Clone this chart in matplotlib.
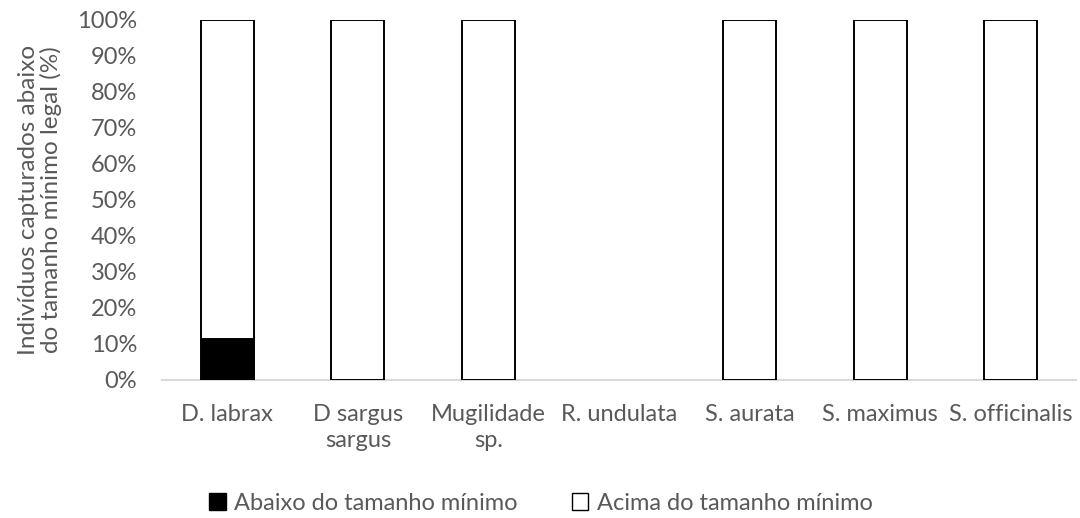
import matplotlib
matplotlib.use("Agg")
import matplotlib.pyplot as plt
from matplotlib.patches import Patch
from matplotlib.ticker import FuncFormatter

categories = ["D. labrax", "D sargus\nsargus", "Mugilidade\nsp.", "R. undulata",
              "S. aurata", "S. maximus", "S. officinalis"]
abaixo = [11.5, 0, 0, 0, 0, 0, 0]
acima = [88.5, 100, 100, 0, 100, 100, 100]
ytick_vals = list(range(0, 101, 10))

plt.rcParams['font.family'] = ['Lato', 'DejaVu Sans']
gray = '#595959'
fs = 17

fig = plt.figure(figsize=(10.8, 5.18), dpi=100)
ax = fig.add_axes([162/1080, 1-380/518, (1076-162)/1080, 360/518])

x = list(range(len(categories)))
w = 0.405
lw_ab = [1.4 if v > 0 else 0 for v in abaixo]
lw_ac = [1.4 if v > 0 else 0 for v in acima]
ax.bar(x, abaixo, width=w, color='black', edgecolor='black', linewidth=lw_ab)
ax.bar(x, acima, width=w, bottom=abaixo, color='white', edgecolor='black',
       linewidth=lw_ac)

ax.set_xlim(-0.5, len(categories) - 0.5)
ax.set_ylim(0, 100)
ax.set_yticks(ytick_vals)
ax.yaxis.set_major_formatter(FuncFormatter(lambda v, p: f"{int(v)}%"))
ax.set_xticks(x)
ax.set_xticklabels(categories, linespacing=1.3)
ax.tick_params(axis='both', length=0, colors=gray, labelsize=fs)
ax.tick_params(axis='x', pad=17)
ax.tick_params(axis='y', pad=18)
for s in ['top', 'right', 'left']:
    ax.spines[s].set_visible(False)
ax.spines['bottom'].set_color('#d9d9d9')
ax.spines['bottom'].set_linewidth(1.5)
ax.spines['bottom'].set_zorder(0)

fig.text(40/1080, 1-200/518, "Indivíduos capturados abaixo\ndo tamanho mínimo legal (%)",
         rotation=90, ha='center', va='center', multialignment='center',
         color=gray, fontsize=17.5, linespacing=1.05)

handles = [Patch(facecolor='black', edgecolor='black', label='Abaixo do tamanho mínimo'),
           Patch(facecolor='white', edgecolor='black', label='Acima do tamanho mínimo')]
fig.legend(handles=handles, loc='center', bbox_to_anchor=(541/1080, 1-503/518),
           ncol=2, frameon=False, fontsize=fs, handlelength=0.7, handleheight=0.7,
           handletextpad=0.35, columnspacing=2.3, labelcolor=gray,
           borderpad=0, borderaxespad=0)

fig.savefig("out.png", dpi=100)
